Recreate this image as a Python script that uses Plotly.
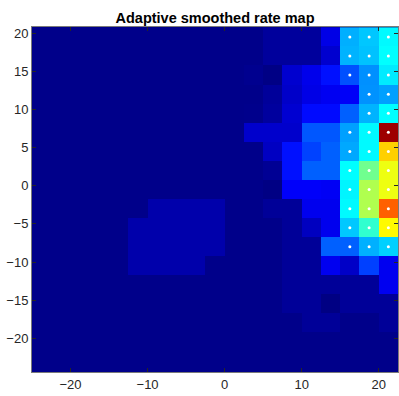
import plotly.graph_objects as go

# Bin centres (2.5-unit bins)
x_centers = [-23.75 + 2.5 * c for c in range(19)]
y_centers = [19.5 - 2.5 * r for r in range(18)]  # top row first

B = 0.01   # background (empty) level
L = 0.024  # faint level
P = 0.042  # patch level

# Normalised smoothed rate, rows from top (y=19.5) to bottom (y=-23)
rate_rows = [
    [B]*10 + [B, B, 0.028, 0.028, 0.028, 0.100, 0.297, 0.320, 0.370],
    [B]*10 + [B, B, 0.028, 0.028, 0.028, 0.078, 0.300, 0.315, 0.375],
    [B]*10 + [B, 0.015, 0.005, 0.078, 0.105, 0.141, 0.203, 0.266, 0.355],
    [B]*10 + [B, B, 0.026, 0.072, 0.100, 0.112, 0.118, 0.268, 0.282],
    [B]*10 + [B, 0.012, 0.030, 0.080, 0.135, 0.135, 0.219, 0.300, 0.375],
    [B]*10 + [B, 0.075, 0.075, 0.075, 0.210, 0.210, 0.282, 0.370, 0.970],
    [B]*10 + [B, B, 0.065, 0.141, 0.190, 0.219, 0.290, 0.370, 0.671],
    [B]*10 + [B, B, 0.020, 0.141, 0.219, 0.219, 0.375, 0.485, 0.608],
    [B]*10 + [B, B, 0.004, 0.120, 0.120, 0.115, 0.365, 0.548, 0.608],
    [B]*6 + [P, P, P, P] + [B, B, L, L, 0.108, 0.108, 0.370, 0.548, 0.781],
    [B]*5 + [P, P, P, P, P] + [B, B, B, L, 0.063, 0.108, 0.321, 0.422, 0.630],
    [B]*5 + [P, P, P, P, P] + [B, B, B, L, L, 0.219, 0.219, 0.298, 0.329],
    [B]*5 + [P, P, P, P, B] + [B, B, B, L, L, 0.110, 0.070, 0.188, 0.110],
    [B]*10 + [B, B, B, L, L, L, L, L, 0.110],
    [B]*10 + [B, B, B, L, L, 0.003, L, L, L],
    [B]*10 + [B, B, B, B, L, L, B, B, L],
    [B]*19,
    [B]*19,
]

# Cells belonging to the detected field (white dots)
field_mask = [
    [0]*16 + [1, 1, 1],
    [0]*16 + [1, 1, 1],
    [0]*16 + [1, 1, 1],
    [0]*16 + [0, 1, 1],
    [0]*16 + [0, 1, 1],
    [0]*16 + [1, 1, 1],
    [0]*16 + [1, 1, 1],
    [0]*16 + [1, 1, 1],
    [0]*16 + [1, 1, 1],
    [0]*16 + [1, 1, 1],
    [0]*16 + [1, 1, 1],
    [0]*16 + [1, 1, 1],
] + [[0]*19 for _ in range(6)]

x_ticks = [-20, -10, 0, 10, 20]
y_ticks = [-20, -15, -10, -5, 0, 5, 10, 15, 20]

jet = [
    [0.0, "rgb(0,0,128)"],
    [0.125, "rgb(0,0,255)"],
    [0.375, "rgb(0,255,255)"],
    [0.625, "rgb(255,255,0)"],
    [0.875, "rgb(255,0,0)"],
    [1.0, "rgb(128,0,0)"],
]

dot_x, dot_y = [], []
for r, row in enumerate(field_mask):
    for c, v in enumerate(row):
        if v:
            dot_x.append(x_centers[c])
            dot_y.append(y_centers[r])

fig = go.Figure()
fig.add_trace(go.Heatmap(
    x=x_centers,
    y=y_centers[::-1],
    z=rate_rows[::-1],
    colorscale=jet, zmin=0, zmax=1, showscale=False,
    hoverinfo="skip",
))
fig.add_trace(go.Scatter(
    x=dot_x, y=dot_y, mode="markers",
    marker=dict(color="white", size=3, line=dict(width=0)),
    hoverinfo="skip", showlegend=False,
))

axis_common = dict(
    ticks="inside", ticklen=4, tickwidth=1, tickcolor="#262626",
    showline=True, linecolor="#7a7a7a", linewidth=1, mirror="ticks",
    showgrid=False, zeroline=False,
    tickfont=dict(family="Liberation Sans, Arial, sans-serif", size=13, color="#262626"),
)

fig.update_layout(
    width=399, height=396,
    margin=dict(l=32, r=1, t=27, b=24),
    paper_bgcolor="white",
    plot_bgcolor="rgb(0,0,138)",
    showlegend=False,
    title=dict(
        text="<b>Adaptive smoothed rate map</b>",
        x=0.5, xref="paper", xanchor="center",
        y=1 - 18.3 / 396, yref="container", yanchor="middle",
        font=dict(family="Liberation Sans, Arial, sans-serif", size=14.5, color="black"),
    ),
    xaxis=dict(range=[-25, 22.5], tickvals=x_ticks, **axis_common),
    yaxis=dict(range=[-24.4, 20.8], tickvals=y_ticks, **axis_common),
)

fig.write_html("out.html")
